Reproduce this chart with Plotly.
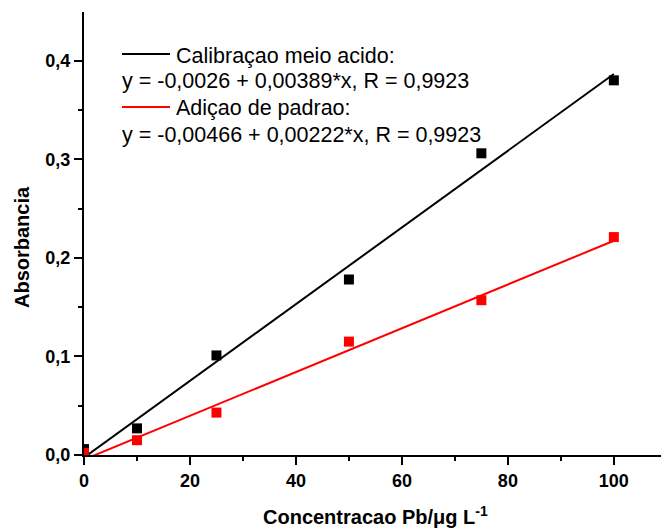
import plotly.graph_objects as go

# ---- data ----
conc = [0, 10, 25, 50, 75, 100]
abs_calib = [0.006, 0.027, 0.101, 0.178, 0.306, 0.380]
abs_adicao = [0.002, 0.015, 0.043, 0.115, 0.157, 0.221]

fit_x = [0, 100]
calib_intercept, calib_slope = -0.0026, 0.00389
adicao_intercept, adicao_slope = -0.00466, 0.00222

calib_title = "Calibraçao meio acido:"
calib_eq = "y = -0,0026 + 0,00389*x, R = 0,9923"
adicao_title = "Adiçao de padrao:"
adicao_eq = "y = -0,00466 + 0,00222*x, R = 0,9923"

x_ticks = [0, 20, 40, 60, 80, 100]
y_ticks = [0.0, 0.1, 0.2, 0.3, 0.4]

FONT = "Arial, 'Liberation Sans', sans-serif"
BLACK, RED = "black", "#ff0000"

# plot-area geometry (pixels) used to place legend items in paper coords
L, R_, T, B = 84, 661, 12, 455
def px(xp): return (xp - L) / (R_ - L)
def py(yp): return (B - yp) / (B - T)

fig = go.Figure()
fig.add_trace(go.Scatter(
    x=fit_x, y=[calib_intercept + calib_slope * v for v in fit_x],
    mode="lines", line=dict(color=BLACK, width=2), showlegend=False))
fig.add_trace(go.Scatter(
    x=fit_x, y=[adicao_intercept + adicao_slope * v for v in fit_x],
    mode="lines", line=dict(color=RED, width=2), showlegend=False))
fig.add_trace(go.Scatter(
    x=conc, y=abs_calib, mode="markers", showlegend=False,
    marker=dict(symbol="square", size=10, color=BLACK)))
fig.add_trace(go.Scatter(
    x=conc, y=abs_adicao, mode="markers", showlegend=False,
    marker=dict(symbol="square", size=10, color=RED)))

axis_common = dict(
    showline=True, linecolor="black", linewidth=2,
    ticks="outside", ticklen=8, tickwidth=2, tickcolor="black",
    showgrid=False, zeroline=False,
    tickfont=dict(family=FONT, size=18, color="black", weight="bold"),
)

fig.update_xaxes(range=[0, 108.9], tickvals=x_ticks,
                 minor=dict(dtick=10, ticks="outside", ticklen=4, tickwidth=2, tickcolor="black"),
                 **axis_common)
fig.update_yaxes(range=[0, 0.4493], tickvals=y_ticks, tickformat=".1f",
                 minor=dict(dtick=0.05, ticks="outside", ticklen=4, tickwidth=2, tickcolor="black"),
                 **axis_common)

leg_font = dict(family=FONT, size=21.5, color="black")
title_font = dict(family=FONT, size=20, color="black", weight="bold")
annotations = [
    dict(text="Absorbancia", textangle=-90, xref="paper", yref="paper",
         x=px(22), y=py(247), xanchor="center", yanchor="middle",
         showarrow=False, font=title_font),
    dict(text="Concentracao Pb/μg L<sup>-1</sup>", xref="paper", yref="paper",
         x=px(376), y=py(515), xanchor="center", yanchor="middle",
         showarrow=False, font=title_font),
    dict(text=calib_title, xref="paper", yref="paper", x=px(174), y=py(56),
         xanchor="left", yanchor="middle", showarrow=False, font=leg_font),
    dict(text=calib_eq, xref="paper", yref="paper", x=px(120), y=py(81),
         xanchor="left", yanchor="middle", showarrow=False, font=leg_font),
    dict(text=adicao_title, xref="paper", yref="paper", x=px(174), y=py(108),
         xanchor="left", yanchor="middle", showarrow=False, font=leg_font),
    dict(text=adicao_eq, xref="paper", yref="paper", x=px(120), y=py(135),
         xanchor="left", yanchor="middle", showarrow=False, font=leg_font),
]
shapes = [
    dict(type="line", xref="paper", yref="paper", x0=px(122), x1=px(170),
         y0=py(54), y1=py(54), line=dict(color=BLACK, width=2)),
    dict(type="line", xref="paper", yref="paper", x0=px(122), x1=px(170),
         y0=py(107), y1=py(107), line=dict(color=RED, width=2)),
]

fig.update_layout(
    width=661, height=530,
    margin=dict(l=L, r=661 - R_, t=T, b=530 - B, pad=0),
    plot_bgcolor="white", paper_bgcolor="white",
    separators=",.",
    font=dict(family=FONT, color="black"),
    showlegend=False,
    annotations=annotations,
    shapes=shapes,
)

fig.write_html("out.html")
